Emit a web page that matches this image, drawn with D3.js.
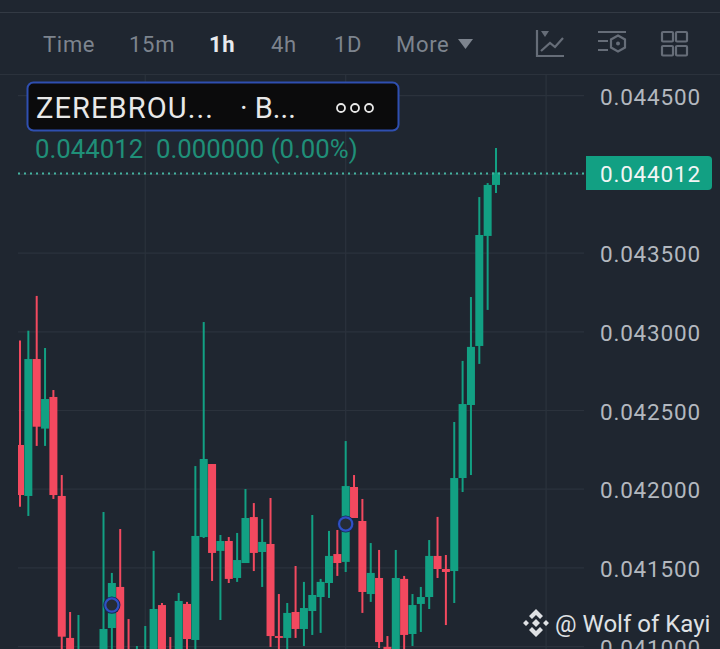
<!DOCTYPE html>
<html><head><meta charset="utf-8">
<script src="https://cdn.jsdelivr.net/npm/d3@7"></script>
<style>html,body{margin:0;padding:0;background:#1f2630;overflow:hidden}svg{display:block}text{font-family:Roboto,sans-serif}</style>
</head><body><svg id="c" width="720" height="649"></svg>
<script>
const priceTicks=[0.0445,0.044,0.0435,0.043,0.0425,0.042,0.0415,0.041];
const priceLabels=["0.044500",null,"0.043500","0.043000","0.042500","0.042000","0.041500","0.041000"];
const timeframes=["Time","15m","1h","4h","1D","More"];
const opens=[.042281,.041957,.042827,.042385,.042586,.041957,.041055,.040852,.0408,.0407,.040915,.041118,.041379,.040947,.040852,.040852,.040915,.041264,.040966,.040915,.041271,.041042,.041696,.04216,.041608,.041671,.041436,.041531,.041823,.041601,.041652,.041067,.041055,.04122,.041112,.041226,.041315,.041404,.041588,.041538,.042014,.041798,.041334,.041436,.040998,.040852,.04143,.04108,.041271,.041315,.041576,.041493,.04148,.042071,.042535,.04291,.043609,.043933];
const closes=[.041963,.042827,.042397,.042573,.041963,.041063,.040915,.040966,.0407,.04082,.041112,.041404,.040852,.040852,.040966,.040947,.041239,.040947,.04085,.04129,.041048,.041703,.042192,.041595,.041671,.04143,.04155,.041817,.041595,.041665,.041067,.041055,.041214,.041112,.041245,.041328,.041411,.041576,.041531,.04202,.041817,.041347,.041468,.041029,.040852,.041436,.041074,.041264,.041315,.041576,.041493,.041474,.042071,.042541,.042904,.043615,.043933,.044012];
const highs=[.042944,.043007,.043228,.042897,.04263,.04209,.04122,.041201,.04085,.04088,.041855,.041468,.041747,.041175,.041004,.041131,.041608,.041277,.041061,.041341,.041284,.042147,.043062,.04216,.041709,.041696,.041722,.042001,.041912,.041811,.041944,.041334,.041277,.041512,.041411,.041836,.04143,.041735,.041741,.042306,.04209,.041938,.041658,.041614,.041067,.041614,.041449,.041334,.041379,.041677,.041824,.041582,.042427,.042815,.043221,.043856,.043945,.044168];
const lows=[.041889,.04183,.042275,.042275,.041938,.040915,.040852,.040788,.04065,.04065,.040852,.040915,.040788,.040788,.04085,.04085,.04085,.04085,.04085,.04085,.040947,.040915,.04169,.041417,.041169,.041404,.041411,.041531,.04148,.041379,.040998,.040915,.040947,.041055,.041004,.041074,.041087,.041309,.041449,.041474,.041817,.041214,.041284,.040991,.040788,.040788,.040915,.041004,.041093,.041239,.041436,.041137,.041277,.041982,.04209,.042796,.043139,.043882];
const lastPrice=0.044012, lastLabel="0.044012", changeLabel="0.000000 (0.00%)";
const markerIndex=[11,39], markerPrice=[0.041264,0.041779];
const symbolText="ZEREBROU...", exchangeText="· B...", watermark="@ Wolf of Kayi";

const GREEN="#12a083",RED="#f3495f",GRID="#2b323c",ICON="#666d78";
const svg=d3.select("#c");
const y=d3.scaleLinear().domain([0.041,0.0445]).range([646.6,95.7]);
const x=d3.scaleLinear().domain([0,57]).range([20,496]);
svg.append("rect").attr("width",720).attr("height",649).attr("fill","#1f2630");
svg.append("defs").append("clipPath").attr("id","plot").append("rect").attr("x",18).attr("y",75).attr("width",567).attr("height",574);
// header rules
svg.append("line").attr("x1",0).attr("x2",720).attr("y1",12.5).attr("y2",12.5).attr("stroke","#333a44");
svg.append("line").attr("x1",0).attr("x2",720).attr("y1",74.5).attr("y2",74.5).attr("stroke","#2b323c");
// grid
svg.append("g").selectAll("line").data(priceTicks).join("line")
 .attr("x1",18).attr("x2",584).attr("y1",d=>y(d)).attr("y2",d=>y(d)).attr("stroke",GRID).attr("stroke-width",1.2);
svg.append("g").selectAll("line").data([15,39,63]).join("line")
 .attr("x1",d=>x(d)).attr("x2",d=>x(d)).attr("y1",75).attr("y2",649).attr("stroke",GRID).attr("stroke-width",1.2);
// candles
const idx=d3.range(opens.length);
const col=i=>closes[i]>=opens[i]?GREEN:RED;
const g=svg.append("g").attr("clip-path","url(#plot)");
g.append("g").selectAll("line").data(idx).join("line")
 .attr("x1",x).attr("x2",x).attr("y1",i=>y(highs[i])).attr("y2",i=>y(lows[i]))
 .attr("stroke",col).attr("stroke-width",2);
g.append("g").selectAll("rect").data(idx).join("rect")
 .attr("x",i=>x(i)-4).attr("width",8)
 .attr("y",i=>y(Math.max(opens[i],closes[i])))
 .attr("height",i=>Math.max(1.5,Math.abs(y(opens[i])-y(closes[i]))))
 .attr("fill",col);
// last price dotted line
svg.append("line").attr("x1",18).attr("x2",585).attr("y1",Math.round(y(lastPrice))+.5).attr("y2",Math.round(y(lastPrice))+.5)
 .attr("stroke","#45b3a0").attr("stroke-width",2).attr("stroke-dasharray","2 4");
// markers
const mk=svg.append("g").selectAll("g").data(markerIndex).join("g")
 .attr("transform",(d,i)=>`translate(${x(d)},${y(markerPrice[i])})`);
mk.append("circle").attr("r",8.6).attr("fill","#17264f");
mk.append("circle").attr("r",6.6).attr("fill","#262c36").attr("stroke","#2f50c4").attr("stroke-width",2.2);
// price labels
svg.append("g").selectAll("text").data(priceTicks.filter((d,i)=>priceLabels[i])).join("text")
 .attr("x",600).attr("y",d=>y(d)+9).attr("font-size",22.5).attr("letter-spacing",0.8).attr("fill","#b3b8bf")
 .text(d=>priceLabels[priceTicks.indexOf(d)]);
svg.append("path").attr("d","M586 156H708a4 4 0 0 1 4 4V186a4 4 0 0 1 -4 4H586Z").attr("fill",GREEN);
svg.append("text").attr("x",600).attr("y",182).attr("font-size",22.5).attr("letter-spacing",0.8).attr("fill","#f2f5f5").text(lastLabel);
// timeframes
const tfX=[43,129,209,271,334,396];
svg.append("g").selectAll("text").data(timeframes).join("text")
 .attr("x",(d,i)=>tfX[i]).attr("y",52).attr("font-size",22).attr("letter-spacing",0.7)
 .attr("font-weight",d=>d==="1h"?700:400).attr("fill",d=>d==="1h"?"#e8eaed":"#7d848e").text(d=>d);
svg.append("path").attr("d","M458 39H473L465.5 49Z").attr("fill","#7d848e");
// toolbar icons
const ic=svg.append("g").attr("fill","none").attr("stroke",ICON).attr("stroke-width",2.2);
ic.append("path").attr("d","M537 30V56H564");
ic.append("path").attr("d","M541 51L550 43L555 47L563 38");
svg.append("path").attr("d","M541 31H549L545 37Z").attr("fill",ICON);
ic.append("path").attr("d","M598 32H626M598 41H608M598 50H608");
ic.append("path").attr("d","M618 35.5L625 39.5V47.5L618 51.5L611 47.5V39.5Z");
svg.append("circle").attr("cx",618).attr("cy",43.5).attr("r",2).attr("fill",ICON);
[[662,32],[676,32],[662,46],[676,46]].forEach(p=>ic.append("rect").attr("x",p[0]).attr("y",p[1]).attr("width",11).attr("height",9.5).attr("rx",1));
// symbol box
svg.append("rect").attr("x",27.5).attr("y",82.5).attr("width",371).attr("height",48).attr("rx",6).attr("fill","#0b0b0c").attr("stroke","#2f4fb0").attr("stroke-width",2);
svg.append("text").attr("x",36).attr("y",118).attr("font-size",29).attr("letter-spacing",1.1).attr("fill","#e8e8e8").text(symbolText);
svg.append("text").attr("x",240).attr("y",118).attr("font-size",29).attr("fill","#e8e8e8").text(exchangeText);
svg.append("g").selectAll("circle").data([341,355,369]).join("circle").attr("cx",d=>d).attr("cy",108).attr("r",4)
 .attr("fill","none").attr("stroke","#e8e8e8").attr("stroke-width",1.8);
svg.append("text").attr("x",35).attr("y",158).attr("font-size",25.8).attr("fill","#1f8f78").text(lastLabel);
svg.append("text").attr("x",156).attr("y",158).attr("font-size",25.8).attr("fill","#1f8f78").text(changeLabel);
// watermark
const wm=svg.append("g").attr("fill","#dfe1e4");
wm.append("path").attr("d","M536 609l7 7-3 3-4-4-4 4-3-3ZM536 637l-7-7 3-3 4 4 4-4 3 3ZM536 619l4 4-4 4-4-4ZM526 620l3 3-3 3-3-3ZM546 620l3 3-3 3-3-3Z");
svg.append("text").attr("x",555).attr("y",632).attr("font-size",24).attr("font-family","Noto Sans").attr("fill","#dfe1e4").text(watermark);
</script></body></html>
